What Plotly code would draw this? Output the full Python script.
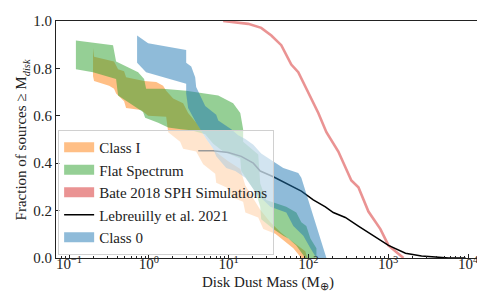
import plotly.graph_objects as go

# ---------------- data ----------------
# Class I band: upper edge and lower edge (both ordered from high to low fraction)
c1_up_mass = [0.200, 0.206, 0.367, 0.412, 0.490, 0.519, 0.873, 1.24, 1.51, 1.65, 2.02, 2.69, 3.11, 3.92, 5.24, 6.79, 9.89, 14.0, 16.2, 24.9, 33.3, 44.4, 56.0, 74.6, 91.4, 96.9]
c1_up_frac = [0.886, 0.849, 0.829, 0.796, 0.788, 0.763, 0.747, 0.743, 0.727, 0.706, 0.673, 0.653, 0.612, 0.571, 0.502, 0.449, 0.408, 0.376, 0.306, 0.204, 0.151, 0.110, 0.082, 0.053, 0.029, 0.0]
c1_lo_mass = [0.200, 0.206, 0.318, 0.367, 0.389, 0.490, 0.519, 0.80, 0.98, 1.65, 1.75, 2.47, 2.69, 3.92, 4.80, 6.79, 6.99, 9.89, 10.8, 15.2, 16.2, 23.5, 27.2, 38.5, 64.7, 81.5]
c1_lo_frac = [0.767, 0.747, 0.727, 0.714, 0.694, 0.661, 0.633, 0.624, 0.600, 0.596, 0.531, 0.490, 0.461, 0.449, 0.396, 0.355, 0.318, 0.294, 0.257, 0.237, 0.192, 0.171, 0.122, 0.102, 0.041, 0.0]

# Flat Spectrum band
fs_up_mass = [0.122, 0.356, 0.389, 0.735, 0.873, 0.925, 1.51, 2.94, 7.41, 11.4, 14.0, 15.2, 15.2, 23.5, 24.9, 29.6, 52.8, 70.5, 81.5, 94.1, 106, 126, 126]
fs_up_frac = [0.918, 0.898, 0.829, 0.784, 0.755, 0.714, 0.714, 0.706, 0.686, 0.653, 0.612, 0.543, 0.490, 0.437, 0.314, 0.245, 0.216, 0.192, 0.151, 0.135, 0.082, 0.041, 0.0]
fs_lo_mass = [0.122, 0.200, 0.389, 0.412, 0.847, 0.90, 1.31, 1.75, 2.54, 3.40, 5.09, 6.41, 8.55, 14.0, 14.4, 22.2, 24.9, 25.6, 36.3, 48.4, 56.0, 70.5, 86.3, 91.4]
fs_lo_frac = [0.796, 0.784, 0.755, 0.686, 0.616, 0.592, 0.571, 0.551, 0.543, 0.539, 0.522, 0.482, 0.449, 0.420, 0.367, 0.273, 0.216, 0.163, 0.122, 0.094, 0.082, 0.053, 0.012, 0.0]

# Class 0 band
c0_up_mass = [0.713, 0.98, 2.94, 2.94, 3.40, 3.60, 3.81, 3.92, 5.09, 6.99, 7.41, 10.8, 13.2, 16.2, 20.4, 25.6, 48.4, 74.6, 81.5, 168]
c0_up_frac = [0.939, 0.906, 0.878, 0.824, 0.808, 0.784, 0.763, 0.722, 0.641, 0.604, 0.580, 0.543, 0.518, 0.502, 0.478, 0.441, 0.380, 0.359, 0.339, 0.0]
c0_lo_mass = [0.713, 0.925, 2.94, 2.94, 3.11, 3.92, 5.24, 6.41, 6.99, 9.33, 12.1, 16.2, 22.2, 33.3, 52.8, 64.7, 86.3, 106, 126]
c0_lo_frac = [0.824, 0.784, 0.735, 0.694, 0.633, 0.571, 0.502, 0.461, 0.429, 0.380, 0.367, 0.339, 0.273, 0.216, 0.192, 0.135, 0.094, 0.041, 0.0]

# Bate 2018 SPH simulations (thin band)
bate_mass = [8.55, 17.6, 25.6, 34.3, 45.7, 61.0, 74.6, 99.8, 133, 168, 237, 345, 423, 565, 798, 1007, 1230, 1552]
bate_frac = [1.0, 0.988, 0.971, 0.939, 0.898, 0.816, 0.784, 0.694, 0.612, 0.531, 0.449, 0.327, 0.298, 0.196, 0.122, 0.053, 0.029, 0.0]

# Lebreuilly et al. 2021
leb_mass = [4.16, 6.41, 9.89, 14.4, 20.4, 24.9, 36.3, 52.8, 81.5, 115, 163, 205, 290, 423, 615, 753, 1007, 1644, 2612, 3908, 5690, 9310]
leb_frac = [0.453, 0.453, 0.445, 0.429, 0.400, 0.367, 0.343, 0.314, 0.282, 0.245, 0.216, 0.192, 0.171, 0.135, 0.098, 0.078, 0.053, 0.020, 0.008, 0.004, 0.0, 0.0]

legend_names = ["Class I", "Flat Spectrum", "Bate 2018 SPH Simulations", "Lebreuilly et al. 2021", "Class 0"]

x_tick_vals = [0.1, 1, 10, 100, 1000, 10000]
x_tick_text = ["10<sup>\u22121</sup>", "10<sup>0</sup>", "10<sup>1</sup>", "10<sup>2</sup>", "10<sup>3</sup>", "10<sup>4</sup>"]
y_tick_vals = [0.0, 0.2, 0.4, 0.6, 0.8, 1.0]
y_tick_text = ["0.0", "0.2", "0.4", "0.6", "0.8", "1.0"]

FONT = "Liberation Serif"
TXT = "#222"
ORANGE = "rgba(255,127,14,0.5)"
GREEN = "rgba(44,160,44,0.5)"
RED = "rgba(214,39,40,0.5)"
BLUE = "rgba(31,119,180,0.5)"

fig = go.Figure()


def band(up_m, up_f, lo_m, lo_f, color):
    xs = list(up_m) + list(lo_m)[::-1]
    ys = list(up_f) + list(lo_f)[::-1]
    fig.add_trace(go.Scatter(
        x=xs, y=ys, mode="lines", fill="toself", fillcolor=color,
        line=dict(width=0, color=color), showlegend=False, hoverinfo="skip"))


def legend_patch(name, color, rank, width=10):
    fig.add_trace(go.Scatter(x=[None], y=[None], mode="lines",
                             line=dict(color=color, width=width),
                             name=name, legendrank=rank, legendgroup=name))


band(c1_up_mass, c1_up_frac, c1_lo_mass, c1_lo_frac, ORANGE)
band(fs_up_mass, fs_up_frac, fs_lo_mass, fs_lo_frac, GREEN)
fig.add_trace(go.Scatter(x=bate_mass, y=bate_frac, mode="lines",
                         line=dict(color=RED, width=2.6),
                         showlegend=False, hoverinfo="skip"))
fig.add_trace(go.Scatter(x=leb_mass, y=leb_frac, mode="lines",
                         line=dict(color="black", width=1.5),
                         showlegend=False, hoverinfo="skip"))
band(c0_up_mass, c0_up_frac, c0_lo_mass, c0_lo_frac, BLUE)

legend_patch(legend_names[0], ORANGE, 1)
legend_patch(legend_names[1], GREEN, 2)
legend_patch(legend_names[2], RED, 3)
legend_patch(legend_names[3], "black", 4, width=1.5)
legend_patch(legend_names[4], BLUE, 5)

fig.update_layout(
    width=485, height=291,
    margin=dict(l=48, r=11, t=5, b=41),
    paper_bgcolor="white", plot_bgcolor="white",
    font=dict(family=FONT, size=15, color=TXT),
    showlegend=True,
    legend=dict(x=0.005, y=0.54, xanchor="left", yanchor="top",
                bgcolor="rgba(255,255,255,0.6)", bordercolor="#d0d0d0", borderwidth=1,
                font=dict(family=FONT, size=15, color=TXT),
                tracegroupgap=1, traceorder="normal", itemwidth=30),
    xaxis=dict(type="log", range=[-1.163, 4.175],
               tickvals=x_tick_vals, ticktext=x_tick_text,
               ticks="inside", ticklen=4, tickwidth=1, tickcolor=TXT,
               ticklabelstandoff=-8, ticklabeloverflow="allow",
               tickfont=dict(family=FONT, size=15, color=TXT),
               minor=dict(ticks="inside", ticklen=2, tickcolor=TXT, dtick="D1", showgrid=False),
               showline=True, linecolor=TXT, linewidth=1, mirror=True,
               showgrid=False, zeroline=False),
    yaxis=dict(range=[0, 1], tickvals=y_tick_vals, ticktext=y_tick_text,
               ticks="inside", ticklen=4, tickwidth=1, tickcolor=TXT,
               ticklabeloverflow="allow",
               tickfont=dict(family=FONT, size=15, color=TXT),
               showline=True, linecolor=TXT, linewidth=1, mirror=True,
               showgrid=False, zeroline=False),
    annotations=[
        dict(text="Disk Dust Mass (M<sub>\u2295</sub>)", xref="paper", yref="paper",
             x=0.498, y=-0.107, xanchor="center", yanchor="middle", showarrow=False,
             font=dict(family=FONT, size=15, color=TXT)),
        dict(text="Fraction of sources \u2265 M<sub><i>disk</i></sub>", xref="paper", yref="paper",
             x=-0.080, y=0.5, xanchor="center", yanchor="middle", textangle=-90, showarrow=False,
             font=dict(family=FONT, size=15, color=TXT)),
    ],
)

fig.write_html("out.html")
